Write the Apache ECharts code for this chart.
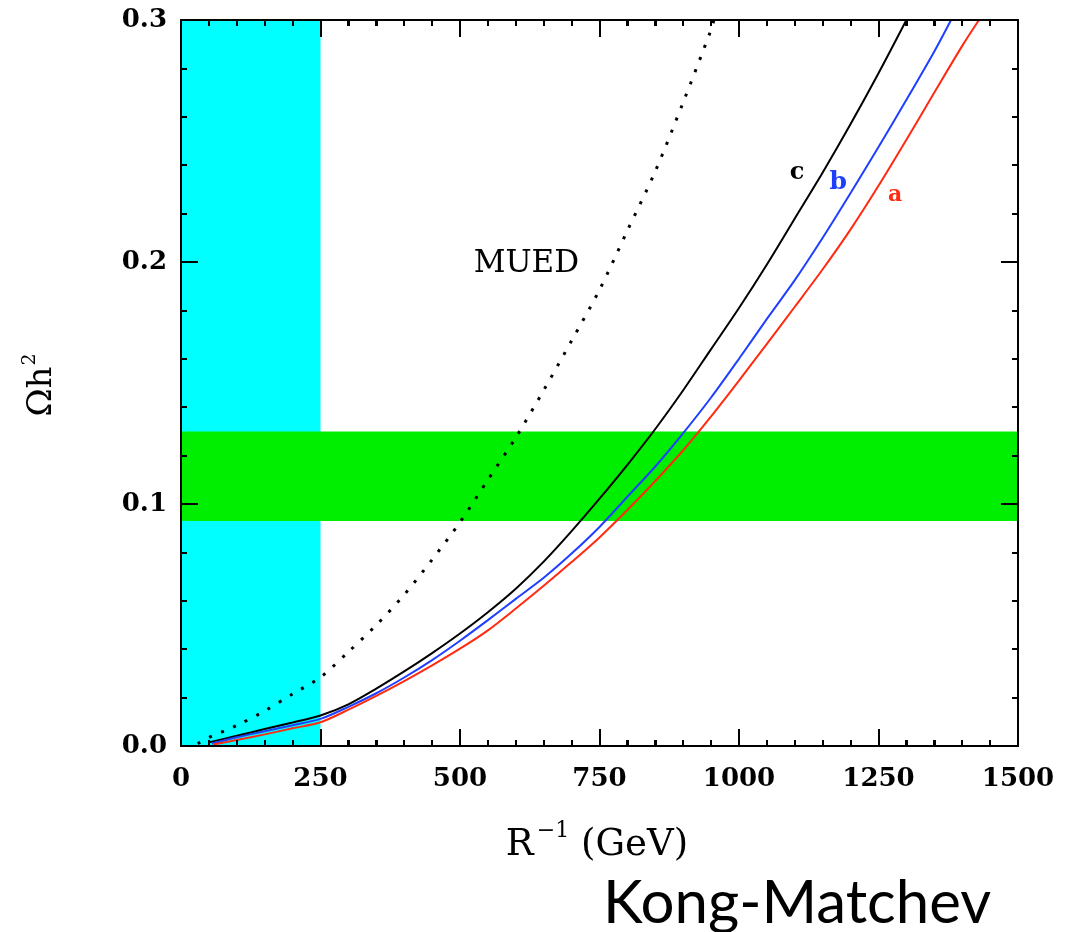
<!DOCTYPE html>
<html>
<head>
<meta charset="utf-8">
<script src="https://cdn.jsdelivr.net/npm/echarts@6/dist/echarts.min.js"></script>
<style>
html,body{margin:0;padding:0;background:#fff;}
#chart{width:1075px;height:932px;}
</style>
</head>
<body>
<div id="chart"></div>
<script>
// ---- data ----
const xTicks = [0, 250, 500, 750, 1000, 1250, 1500];
const yTicks = [0.0, 0.1, 0.2, 0.3];
const xMinorPerMajor = 5;

const muedX = [30, 50, 100, 150, 200, 250, 300, 350, 400, 450, 500, 550, 600, 650, 700, 750, 800, 850, 900, 950, 955];
const muedY = [0.001, 0.0035, 0.0085, 0.0145, 0.0215, 0.0284, 0.0389, 0.0500, 0.0625, 0.0770, 0.0925, 0.1100, 0.1275, 0.1470, 0.1675, 0.1885, 0.2130, 0.2375, 0.2660, 0.2960, 0.300];

const cX = [50, 100, 150, 200, 250, 300, 350, 400, 450, 500, 550, 600, 650, 700, 750, 800, 850, 900, 950, 1000, 1050, 1100, 1150, 1200, 1250, 1300];
const cY = [0.0015, 0.0042, 0.0070, 0.0097, 0.0126, 0.0172, 0.0237, 0.0308, 0.0384, 0.0465, 0.0553, 0.0650, 0.0762, 0.0888, 0.1022, 0.1162, 0.1310, 0.1470, 0.1640, 0.1810, 0.1990, 0.2180, 0.2370, 0.2570, 0.2780, 0.300];

const bX = [55, 100, 150, 200, 250, 300, 350, 400, 450, 500, 550, 600, 650, 700, 750, 800, 850, 900, 950, 1000, 1050, 1100, 1150, 1200, 1250, 1300, 1350, 1380];
const bY = [0.0010, 0.0036, 0.0061, 0.0086, 0.0112, 0.0162, 0.0218, 0.0283, 0.0355, 0.0435, 0.0520, 0.0608, 0.0695, 0.0795, 0.0905, 0.1030, 0.1155, 0.1293, 0.1440, 0.1600, 0.1765, 0.1925, 0.2100, 0.2285, 0.2475, 0.2670, 0.2870, 0.300];

const aX = [58, 100, 150, 200, 250, 300, 350, 400, 450, 500, 550, 600, 650, 700, 750, 800, 850, 900, 950, 1000, 1050, 1100, 1150, 1200, 1250, 1300, 1350, 1400, 1430];
const aY = [0.0006, 0.0025, 0.0048, 0.0073, 0.0098, 0.0150, 0.0207, 0.0268, 0.0333, 0.0402, 0.0478, 0.0568, 0.0662, 0.0760, 0.0862, 0.0975, 0.1095, 0.1222, 0.1362, 0.1510, 0.1662, 0.1815, 0.1970, 0.2135, 0.2315, 0.2505, 0.2700, 0.2893, 0.300];

const excludedR = [0, 250];          // cyan region (GeV)
const wmapBand = [0.093, 0.130];      // green band (Omega h^2)

const labelC = [1104, 0.237];
const labelB = [1178, 0.233];
const labelA = [1280, 0.2275];
const labelMUED = [619, 0.199];

// ---- build ----
const pairs = (xs, ys) => xs.map((x, i) => [x, ys[i]]);
const serif = 'DejaVu Serif';
const yMin = yTicks[0], yMax = yTicks[yTicks.length - 1];

const chart = echarts.init(document.getElementById('chart'));

const axisCommon = {
  type: 'value', z: 20,
  axisLine: {show: true, onZero: false, lineStyle: {color: '#000', width: 2}},
  splitLine: {show: false},
  axisTick: {show: true, inside: true, length: 17, lineStyle: {color: '#000', width: 2}},
  minorTick: {show: true, splitNumber: 5, length: 6, lineStyle: {color: '#000', width: 2}}
};

function textMark(coord, text, color, font) {
  return {
    symbol: 'circle', symbolSize: 1, silent: true,
    itemStyle: {color: 'rgba(0,0,0,0)'},
    label: {show: true, position: 'inside', color: color, fontFamily: serif,
      fontWeight: font.weight, fontSize: font.size, formatter: text},
    data: [{coord: coord}]
  };
}

const titles = [
  {type: 'text', x: 597, y: 842, z: 10,
    style: {text: '{m|R}{s|−1}{m|(GeV)}', align: 'center', verticalAlign: 'middle',
      rich: {m: {fontFamily: serif, fontSize: 37, fill: '#000', verticalAlign: 'bottom'},
             s: {fontFamily: serif, fontSize: 22, fill: '#000', verticalAlign: 'top', padding: [0, 12, 22, 3]}}}},
  {type: 'text', x: 40, y: 385, rotation: Math.PI / 2, z: 10,
    style: {text: '{m|Ωh}{s|2}', align: 'center', verticalAlign: 'middle',
      rich: {m: {fontFamily: serif, fontSize: 34, fill: '#000', verticalAlign: 'bottom'},
             s: {fontFamily: serif, fontSize: 19, fill: '#000', verticalAlign: 'top', padding: [0, 0, 19, 1]}}}},
  {type: 'text', x: 603, y: 904, z: 10,
    style: {text: 'Kong-Matchev', fill: '#000', font: '60px Lato', align: 'left', verticalAlign: 'middle'}}
];

const option = {
  animation: false,
  backgroundColor: '#ffffff',
  grid: {left: 181, right: 57, top: 20, bottom: 186, containLabel: false},
  xAxis: [
    Object.assign({}, axisCommon, {
      position: 'bottom', min: 0, max: 1500, interval: 250,
      axisLabel: {show: true, margin: 20, color: '#000', fontFamily: serif, fontWeight: 'bold', fontSize: 26,
        formatter: v => xTicks.includes(v) ? String(v) : ''}
    }),
    Object.assign({}, axisCommon, {
      position: 'top', min: 0, max: 1500, interval: 250, axisLabel: {show: false}
    })
  ],
  yAxis: [
    Object.assign({}, axisCommon, {
      position: 'left', min: yMin, max: yMax, interval: 0.1,
      axisLabel: {show: true, margin: 14, color: '#000', fontFamily: serif, fontWeight: 'bold', fontSize: 26,
        formatter: v => yTicks.some(t => Math.abs(t - v) < 1e-9) ? v.toFixed(1) : ''}
    }),
    Object.assign({}, axisCommon, {
      position: 'right', min: yMin, max: yMax, interval: 0.1, axisLabel: {show: false}
    })
  ],
  series: [
    {
      type: 'line', data: [], z: 1, silent: true,
      markArea: {
        silent: true,
        data: [
          [{xAxis: excludedR[0], yAxis: yMin, itemStyle: {color: '#00ffff', opacity: 1}}, {xAxis: excludedR[1], yAxis: yMax}],
          [{xAxis: 0, yAxis: wmapBand[0], itemStyle: {color: '#00ee00', opacity: 1}}, {xAxis: 1500, yAxis: wmapBand[1]}]
        ]
      }
    },
    {
      name: 'MUED', type: 'line', data: pairs(muedX, muedY), showSymbol: false, smooth: 0.3, z: 5,
      lineStyle: {color: '#000', width: 3, type: [3, 10], cap: 'butt'},
      markPoint: textMark(labelMUED, 'MUED', '#000', {weight: 'normal', size: 31})
    },
    {
      name: 'c', type: 'line', data: pairs(cX, cY), showSymbol: false, smooth: 0.3, z: 5,
      lineStyle: {color: '#000000', width: 2},
      markPoint: textMark(labelC, 'c', '#000', {weight: 'bold', size: 24})
    },
    {
      name: 'b', type: 'line', data: pairs(bX, bY), showSymbol: false, smooth: 0.3, z: 5,
      lineStyle: {color: '#1f3fff', width: 2},
      markPoint: textMark(labelB, 'b', '#1f3fff', {weight: 'bold', size: 25})
    },
    {
      name: 'a', type: 'line', data: pairs(aX, aY), showSymbol: false, smooth: 0.3, z: 5,
      lineStyle: {color: '#ff2a10', width: 2},
      markPoint: textMark(labelA, 'a', '#ff2a10', {weight: 'bold', size: 22})
    }
  ]
};
chart.setOption(option);

// frame ticks on bottom and top edges, positioned through the x scale
const tickEls = [];
for (let i = 0; i < xTicks.length; i++) {
  const vals = [[xTicks[i], true]];
  if (i < xTicks.length - 1) {
    const step = (xTicks[i + 1] - xTicks[i]) / xMinorPerMajor;
    for (let k = 1; k < xMinorPerMajor; k++) vals.push([xTicks[i] + k * step, false]);
  }
  vals.forEach(([v, major]) => {
    const len = major ? 17 : 6;
    const pb = chart.convertToPixel({xAxisIndex: 0, yAxisIndex: 0}, [v, yMin]);
    const pt = chart.convertToPixel({xAxisIndex: 0, yAxisIndex: 0}, [v, yMax]);
    const px = Math.round(pb[0]);
    tickEls.push({type: 'rect', z: 30, silent: true,
      shape: {x: px - 1, y: Math.round(pb[1]) - len, width: 2, height: len}, style: {fill: '#000'}});
    tickEls.push({type: 'rect', z: 30, silent: true,
      shape: {x: px - 1, y: Math.round(pt[1]), width: 2, height: len}, style: {fill: '#000'}});
  });
}
chart.setOption({graphic: titles.concat(tickEls)});
</script>
</body>
</html>
